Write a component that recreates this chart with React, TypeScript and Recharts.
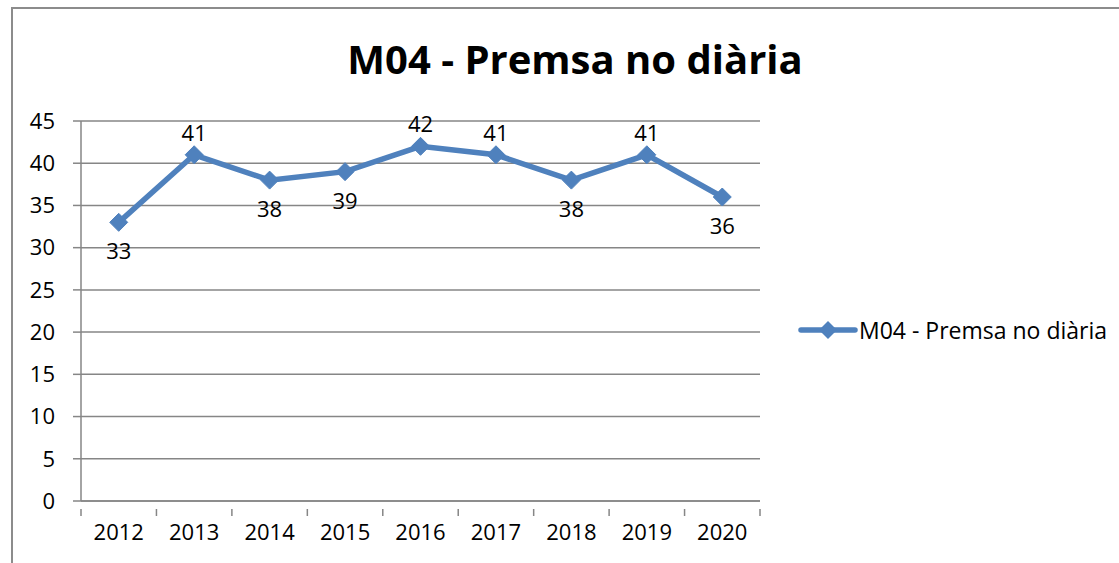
import React from "react";
import {
  LineChart,
  Line,
  XAxis,
  YAxis,
  CartesianGrid,
  LabelList,
} from "recharts";

const years = ["2012", "2013", "2014", "2015", "2016", "2017", "2018", "2019", "2020"];
const values = [33, 41, 38, 39, 42, 41, 38, 41, 36];
// where each value label sits relative to its point
const labelSide = ["below", "above", "below", "below", "above", "above", "below", "above", "below"];
const yTicks = [0, 5, 10, 15, 20, 25, 30, 35, 40, 45];

const seriesName = "M04 - Premsa no diària";
const BLUE = "#4F81BD";
const GRID = "#868686";
const FONT = "'Open Sans', sans-serif";

const data = years.map((year, i) => ({ year, value: values[i], side: labelSide[i] }));

const W = 1119;
const H = 563;
const margin = { top: 121, right: 359, bottom: 22, left: 0 };
const yAxisWidth = 81;
const plotWidth = W - margin.left - margin.right - yAxisWidth;
const band = plotWidth / years.length;

const Diamond = (props: any) => {
  const { cx, cy } = props;
  if (cx == null || cy == null) return null;
  const r = 9;
  return (
    <path
      d={`M${cx},${cy - r} L${cx + r},${cy} L${cx},${cy + r} L${cx - r},${cy} Z`}
      fill={BLUE}
      stroke={BLUE}
    />
  );
};

const XTick = (props: any) => {
  const { x, y, payload, index } = props;
  const left = x - band / 2;
  const right = x + band / 2;
  return (
    <g>
      <line x1={left} y1={y} x2={left} y2={y + 7} stroke={GRID} strokeWidth={1.5} />
      {index === years.length - 1 && (
        <line x1={right} y1={y} x2={right} y2={y + 7} stroke={GRID} strokeWidth={1.5} />
      )}
      <text
        x={x}
        y={y + 22}
        textAnchor="middle"
        dominantBaseline="central"
        fontFamily={FONT}
        fontSize={22}
        fill="#000"
      >
        {payload.value}
      </text>
    </g>
  );
};

const ValueLabel = (props: any) => {
  const { x, y, value, index } = props;
  const above = data[index].side === "above";
  return (
    <text
      x={x}
      y={above ? y - 23 : y + 28}
      textAnchor="middle"
      dominantBaseline="central"
      fontFamily={FONT}
      fontSize={22}
      fill="#000"
    >
      {value}
    </text>
  );
};

export default function App() {
  return (
    <div style={{ position: "absolute", left: 0, top: 0, width: W, height: H, overflow: "hidden", background: "#fff" }}>
      <div
        style={{
          position: "absolute",
          left: 11,
          top: 7,
          width: 1200,
          height: 700,
          borderLeft: "2px solid #8c8c8c",
          borderTop: "2px solid #8c8c8c",
        }}
      />
      <div
        style={{
          position: "absolute",
          left: 0,
          width: 1150,
          top: 33,
          textAlign: "center",
          fontFamily: FONT,
          fontWeight: 700,
          fontSize: 40,
          lineHeight: "52px",
          color: "#000",
        }}
      >
        {seriesName}
      </div>
      <div
        style={{
          position: "absolute",
          left: 798,
          top: 314,
          display: "flex",
          alignItems: "center",
          fontFamily: FONT,
          fontSize: 23,
          color: "#000",
          whiteSpace: "nowrap",
        }}
      >
        <svg width={60} height={20}>
          <line x1={3} y1={10} x2={57} y2={10} stroke={BLUE} strokeWidth={5.5} strokeLinecap="round" />
          <path d="M30,1 L39,10 L30,19 L21,10 Z" fill={BLUE} />
        </svg>
        <span style={{ marginLeft: 1 }}>{seriesName}</span>
      </div>
      <LineChart width={W} height={H} data={data} margin={margin} style={{ position: "absolute", left: 0, top: 0 }}>
        <CartesianGrid vertical={false} stroke={GRID} strokeWidth={1.5} />
        <XAxis
          dataKey="year"
          stroke={GRID}
          strokeWidth={1.5}
          tickLine={false}
          tick={<XTick />}
          height={40}
          interval={0}
          padding={{ left: band / 2, right: band / 2 }}
        />
        <YAxis
          domain={[0, 45]}
          ticks={yTicks}
          width={yAxisWidth}
          stroke={GRID}
          strokeWidth={1.5}
          tickSize={8}
          tickMargin={18}
          tick={{ fill: "#000", fontFamily: FONT, fontSize: 22 }}
          interval={0}
        />
        <Line
          type="linear"
          dataKey="value"
          name={seriesName}
          stroke={BLUE}
          strokeWidth={5.5}
          dot={<Diamond />}
          activeDot={false}
          isAnimationActive={false}
        >
          <LabelList dataKey="value" content={<ValueLabel />} />
        </Line>
      </LineChart>
    </div>
  );
}
